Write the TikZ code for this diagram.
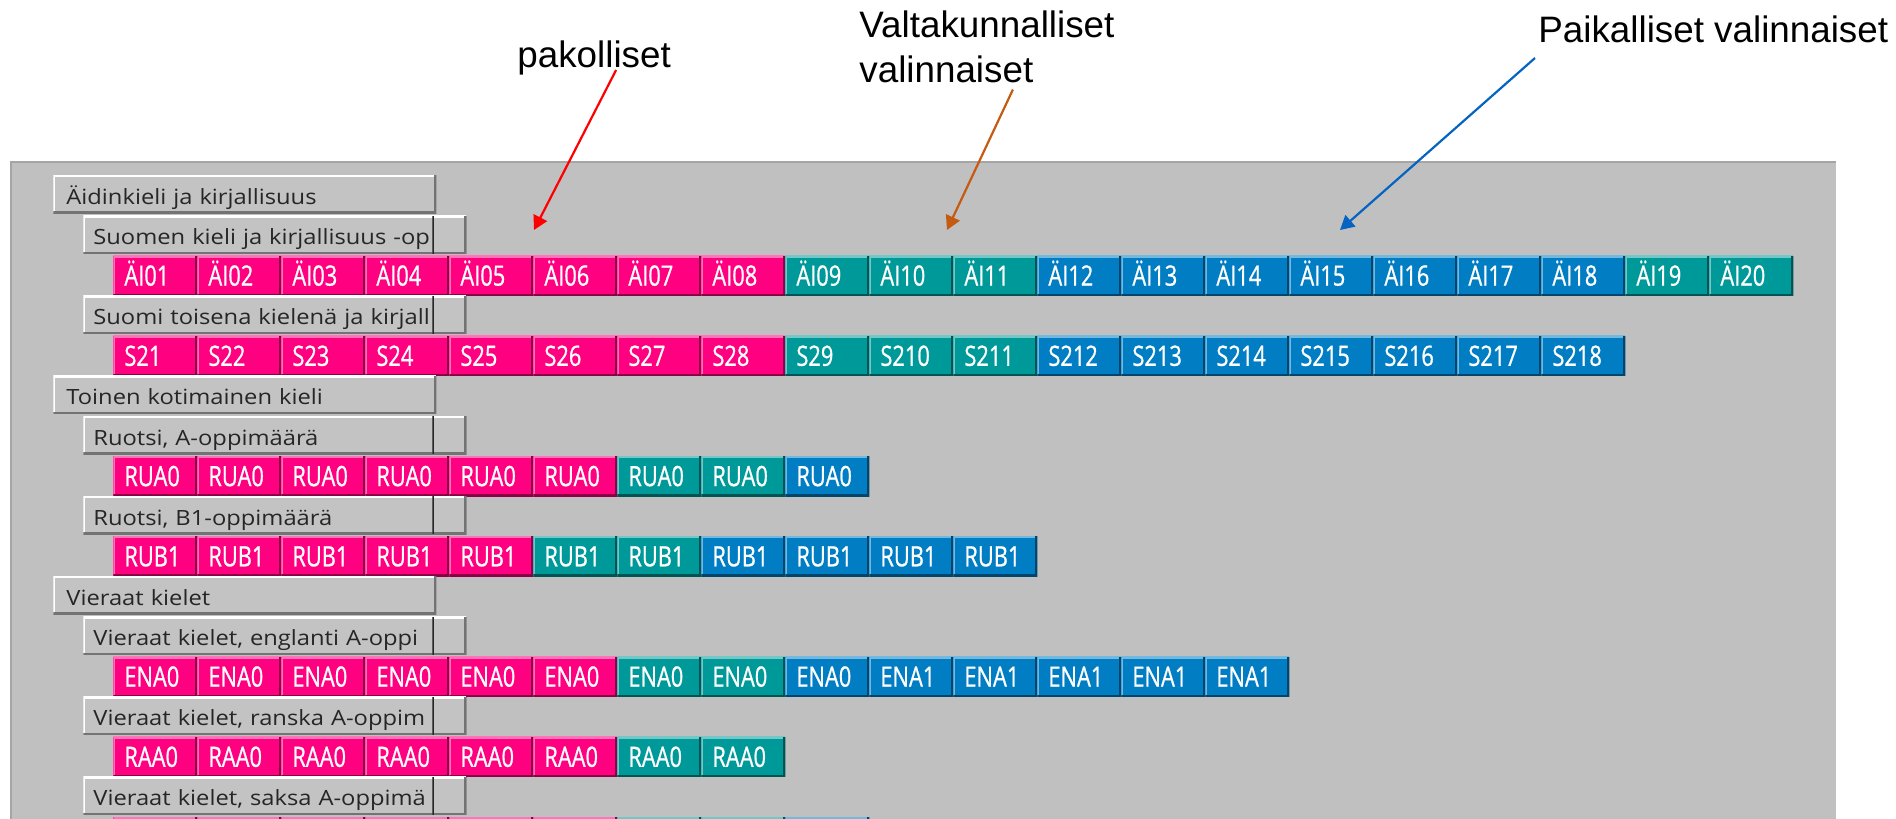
\documentclass[tikz,border=0pt]{standalone}
\usepackage{fontspec}
\setmainfont{Liberation Sans}
\newfontfamily\guifont[FakeStretch=1.13]{Open Sans}
\newfontfamily\tagfont[FakeStretch=0.78,FakeBold=0.8]{Open Sans}
\usetikzlibrary{arrows.meta}

\definecolor{pakcol}{RGB}{255,0,128}
\definecolor{valcol}{RGB}{0,153,153}
\definecolor{paicol}{RGB}{0,125,195}
\definecolor{panelgray}{RGB}{192,192,192}
\definecolor{boxgray}{RGB}{195,195,195}
\definecolor{panelline}{RGB}{165,165,165}
\definecolor{arrowred}{RGB}{255,0,0}
\definecolor{arroworange}{RGB}{197,90,17}
\definecolor{arrowblue}{RGB}{5,99,193}

\tikzset{
    bevel/.style 2 args={path picture={
        \draw[#1,line width=2pt] (path picture bounding box.south west)
            -- (path picture bounding box.north west)
            -- (path picture bounding box.north east);
        \draw[#2,line width=2pt] (path picture bounding box.north east)
            -- (path picture bounding box.south east)
            -- (path picture bounding box.south west);}},
    course/.style={anchor=north west,fill=#1,bevel={#1!55!white}{#1!55!black},
        inner xsep=5.5pt,inner ysep=0pt,text width=31pt,
        text height=15pt,text depth=5pt,text=white,
        font=\tagfont\fontsize{14}{16}\selectfont},
    grouphead/.style={anchor=north west,fill=boxgray,bevel={white}{black!55},
        inner xsep=6.5pt,inner ysep=0pt,text width=178.5pt,
        text height=14.5pt,text depth=4.5pt,text=black!85,
        font=\guifont\fontsize{10.5}{12}\selectfont},
    subhead/.style={grouphead,inner xsep=5pt,text width=181.5pt},
    subbtn/.style={anchor=north east,fill=boxgray,inner sep=0pt,
        minimum width=17pt,minimum height=19pt,
        path picture={
        \draw[white,line width=2pt] (path picture bounding box.north west)
            -- (path picture bounding box.north east);
        \draw[black!55,line width=2pt] (path picture bounding box.north east)
            -- (path picture bounding box.south east)
            -- (path picture bounding box.south west);
        \draw[black!85,line width=2pt] (path picture bounding box.south west)
            -- (path picture bounding box.north west);}},
    annot/.style={anchor=base west,inner sep=0pt,
        font=\fontsize{18.4}{22.5}\selectfont},
    arr/.style={#1,line width=1.1pt,-{Triangle[length=7pt,width=7.5pt]}}
}

\newcommand\courserow[3]{%
    \foreach \lab/\col [count=\i from 0] in {#3}
        \node[course=\col] (#1-\i) at ({113+84*\i},#2) {\lab};}

\begin{document}
\begin{tikzpicture}[x=0.5pt,y=-0.5pt]
    \useasboundingbox (0,0) rectangle (1896,819);
    \clip (0,0) rectangle (1896,819);

    \fill[panelgray] (11,162) rectangle (1836,819);
    \draw[panelline,line width=1pt] (11,819) -- (11,162) -- (1836,162);

    \node[grouphead] (aik) at (53,175) {Äidinkieli ja kirjallisuus};
    \node[subhead] (suomi) at (83,215.1) {Suomen kieli ja kirjallisuus -op};
    \node[subbtn] (suomi-btn) at (suomi.north east) {};
    \courserow{ai}{255.2}{ÄI01/pakcol,ÄI02/pakcol,ÄI03/pakcol,ÄI04/pakcol,
        ÄI05/pakcol,ÄI06/pakcol,ÄI07/pakcol,ÄI08/pakcol,ÄI09/valcol,
        ÄI10/valcol,ÄI11/valcol,ÄI12/paicol,ÄI13/paicol,ÄI14/paicol,
        ÄI15/paicol,ÄI16/paicol,ÄI17/paicol,ÄI18/paicol,ÄI19/valcol,ÄI20/valcol}
    \node[subhead] (s2) at (83,295.3) {Suomi toisena kielenä ja kirjall};
    \node[subbtn] (s2-btn) at (s2.north east) {};
    \courserow{st}{335.4}{S21/pakcol,S22/pakcol,S23/pakcol,S24/pakcol,
        S25/pakcol,S26/pakcol,S27/pakcol,S28/pakcol,S29/valcol,S210/valcol,
        S211/valcol,S212/paicol,S213/paicol,S214/paicol,S215/paicol,
        S216/paicol,S217/paicol,S218/paicol}

    \node[grouphead] (toinen) at (53,375.5) {Toinen kotimainen kieli};
    \node[subhead] (rua) at (83,415.6) {Ruotsi, A-oppimäärä};
    \node[subbtn] (rua-btn) at (rua.north east) {};
    \courserow{ruac}{455.7}{RUA0/pakcol,RUA0/pakcol,RUA0/pakcol,RUA0/pakcol,
        RUA0/pakcol,RUA0/pakcol,RUA0/valcol,RUA0/valcol,RUA0/paicol}
    \node[subhead] (rub) at (83,495.8) {Ruotsi, B1-oppimäärä};
    \node[subbtn] (rub-btn) at (rub.north east) {};
    \courserow{rubc}{535.9}{RUB1/pakcol,RUB1/pakcol,RUB1/pakcol,RUB1/pakcol,
        RUB1/pakcol,RUB1/valcol,RUB1/valcol,RUB1/paicol,RUB1/paicol,
        RUB1/paicol,RUB1/paicol}

    \node[grouphead] (vieraat) at (53,576) {Vieraat kielet};
    \node[subhead] (eng) at (83,616.1) {Vieraat kielet, englanti A-oppi};
    \node[subbtn] (eng-btn) at (eng.north east) {};
    \courserow{enac}{656.2}{ENA0/pakcol,ENA0/pakcol,ENA0/pakcol,ENA0/pakcol,
        ENA0/pakcol,ENA0/pakcol,ENA0/valcol,ENA0/valcol,ENA0/paicol,
        ENA1/paicol,ENA1/paicol,ENA1/paicol,ENA1/paicol,ENA1/paicol}
    \node[subhead] (ran) at (83,696.3) {Vieraat kielet, ranska A-oppim};
    \node[subbtn] (ran-btn) at (ran.north east) {};
    \courserow{raac}{736.4}{RAA0/pakcol,RAA0/pakcol,RAA0/pakcol,RAA0/pakcol,
        RAA0/pakcol,RAA0/pakcol,RAA0/valcol,RAA0/valcol}
    \node[subhead] (sak) at (83,776.5) {Vieraat kielet, saksa A-oppimä};
    \node[subbtn] (sak-btn) at (sak.north east) {};
    \courserow{sakc}{816.6}{/pakcol,/pakcol,/pakcol,/pakcol,/pakcol,/pakcol,
        /valcol,/valcol,/paicol}

    \node[annot] (pak) at (517,68) {pakolliset};
    \node[annot,anchor=north west,align=left] (valt) at (859,10.7)
        {Valtakunnalliset\\valinnaiset};
    \node[annot] (paik) at (1538,42) {Paikalliset valinnaiset};

    \coordinate (pak-to) at (534,230);
    \coordinate (valt-to) at (947,230);
    \coordinate (paik-to) at (1340,230);
    \draw[arr=arrowred] ([xshift=11pt,yshift=-1pt]pak.base) -- (pak-to);
    \draw[arr=arroworange] ([xshift=13pt,yshift=-3pt]valt.south) -- (valt-to);
    \draw[arr=arrowblue] ([xshift=-1.5pt,yshift=-8pt]paik.base west) -- (paik-to);
\end{tikzpicture}
\end{document}
